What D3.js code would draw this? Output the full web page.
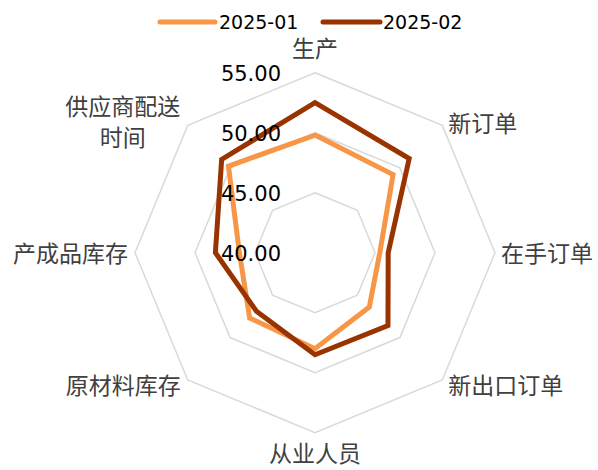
<!DOCTYPE html>
<html>
<head>
<meta charset="utf-8">
<script src="https://cdn.jsdelivr.net/npm/d3@7"></script>
<style>
  html, body { margin: 0; padding: 0; background: #fff; }
  svg { display: block; }
</style>
</head>
<body>
<svg id="chart" width="598" height="470"></svg>
<script>
const categories = ['生产', '新订单', '在手订单', '新出口订单', '从业人员', '原材料库存', '产成品库存', '供应商配送时间'];
const seriesNames = ['2025-01', '2025-02'];
const values2025_01 = [49.8, 49.2, 45.4, 46.4, 48.0, 47.7, 46.3, 50.2];
const values2025_02 = [52.5, 51.1, 46.1, 48.6, 48.5, 46.9, 48.3, 51.0];
const tickValues = [40, 45, 50, 55];
const colors = ['#F79646', '#993300'];

const svg = d3.select('#chart');
const cx = 315, cy = 252.7;
const rScale = d3.scaleLinear().domain([40, 55]).range([0, 180]);
const angle = d3.scalePoint().domain(categories).range([0, 2 * Math.PI * (categories.length - 1) / categories.length]);

function pt(cat, v) {
  const a = angle(cat), r = rScale(v);
  return [cx + r * Math.sin(a), cy - r * Math.cos(a)];
}

// grid octagons
const gridG = svg.append('g');
tickValues.filter(t => t > 40).forEach(t => {
  gridG.append('path')
    .attr('d', d3.line()(categories.map(c => pt(c, t))) + 'Z')
    .attr('fill', 'none')
    .attr('stroke', '#d9d9d9')
    .attr('stroke-width', 1.5);
});

// series
const series = [values2025_01, values2025_02];
series.forEach((vals, i) => {
  const pts = categories.map((c, j) => pt(c, vals[j]));
  svg.append('path')
    .attr('d', d3.line()(pts) + 'Z')
    .attr('fill', 'none')
    .attr('stroke', colors[i])
    .attr('stroke-width', 5)
    .attr('stroke-linejoin', 'miter');
});

// tick labels
const fmt = d3.format('.2f');
svg.append('g').selectAll('text').data(tickValues).join('text')
  .attr('x', cx - 34)
  .attr('y', d => cy - rScale(d) + 1.5)
  .attr('text-anchor', 'end')
  .attr('dominant-baseline', 'central')
  .attr('font-family', 'DejaVu Sans, sans-serif')
  .attr('font-size', 21)
  .attr('fill', '#000')
  .text(d => fmt(d));

// category labels
const labelFont = '"Noto Sans CJK SC", sans-serif';
const outer = 55;
categories.forEach(c => {
  const [vx, vy] = pt(c, outer);
  const a = angle(c);
  const s = Math.sin(a), co = Math.cos(a);
  const t = svg.append('text')
    .attr('font-family', labelFont)
    .attr('font-size', 23)
    .attr('fill', '#404040')
    .attr('dominant-baseline', 'central');
  if (c.length > 6) {
    // wrapped label
    const lines = [c.slice(0, 5), c.slice(5)];
    t.attr('text-anchor', 'middle');
    lines.forEach((ln, k) => {
      t.append('tspan').attr('x', vx - 65).attr('y', vy - 20 + k * 31).text(ln);
    });
    return;
  }
  let x = vx, y = vy, anchor = 'middle';
  if (s > 0.01) { anchor = 'start'; x = vx + 6; y = vy - 5 * co + (Math.abs(co) < 0.01 ? -1 : 0); }
  else if (s < -0.01) { anchor = 'end'; x = vx - 7; y = vy - 5 * co + (Math.abs(co) < 0.01 ? -1 : 0); }
  else { y = co > 0 ? vy - 26 : vy + 19.5; }
  t.attr('x', x).attr('y', y).attr('text-anchor', anchor).text(c);
});

// legend
const legend = svg.append('g');
const legendItems = [{ x1: 160, x2: 215, tx: 219 }, { x1: 323, x2: 380, tx: 383 }];
seriesNames.forEach((n, i) => {
  const it = legendItems[i];
  legend.append('line')
    .attr('x1', it.x1).attr('x2', it.x2).attr('y1', 22).attr('y2', 22)
    .attr('stroke', colors[i]).attr('stroke-width', 5).attr('stroke-linecap', 'round');
  legend.append('text')
    .attr('x', it.tx).attr('y', 22)
    .attr('dominant-baseline', 'central')
    .attr('font-family', 'DejaVu Sans, sans-serif')
    .attr('font-size', 19)
    .attr('fill', '#000')
    .text(n);
});
</script>
</body>
</html>
